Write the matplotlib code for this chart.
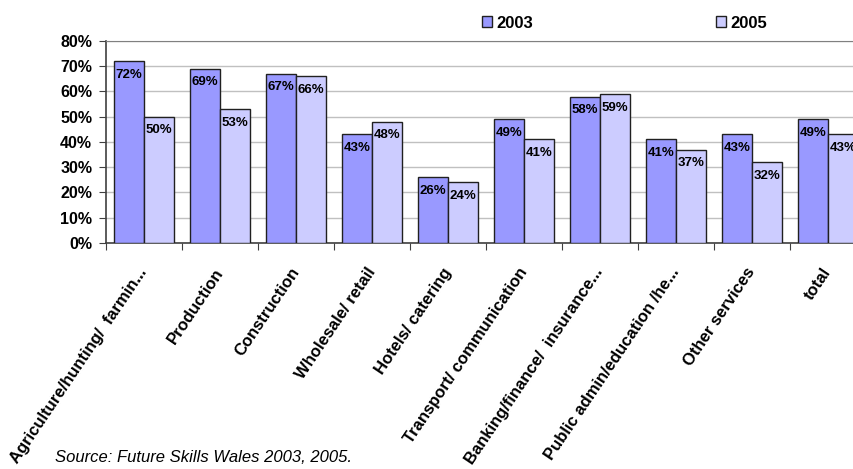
import numpy as np
import matplotlib
matplotlib.use("Agg")
import matplotlib.pyplot as plt
from matplotlib.patches import Patch

plt.rcParams["font.family"] = ["Liberation Sans", "DejaVu Sans"]

# ── data ──────────────────────────────────────────────────────────────────────
sectors = ["Agriculture/hunting/  farmin...", "Production", "Construction",
           "Wholesale/ retail", "Hotels/ catering", "Transport/ communication",
           "Banking/finance/  insurance...", "Public admin/education /he...",
           "Other services", "total"]
pct_2003 = [72, 69, 67, 43, 26, 49, 58, 41, 43, 49]
pct_2005 = [50, 53, 66, 48, 24, 41, 59, 37, 32, 43]
years = ["2003", "2005"]
y_ticks = [0, 10, 20, 30, 40, 50, 60, 70, 80]

c03, c05 = "#9999FF", "#CCCCFF"

W, H = 854, 469
fig = plt.figure(figsize=(W / 100, H / 100), dpi=100)
# plot area runs past the right edge of the canvas
ax = fig.add_axes([106 / W, 1 - 243 / H, 760 / W, 202 / H])

x = np.arange(len(sectors))
bw = 0.4
b1 = ax.bar(x - bw / 2, pct_2003, bw, color=c03, edgecolor="#202020", linewidth=1.0, zorder=3)
b2 = ax.bar(x + bw / 2, pct_2005, bw, color=c05, edgecolor="#202020", linewidth=1.0, zorder=3)

for bars, vals in ((b1, pct_2003), (b2, pct_2005)):
    for r, v in zip(bars, vals):
        ax.annotate(f"{v}%", (r.get_x() + r.get_width() / 2, v),
                    xytext=(0, -5.5), textcoords="offset points",
                    ha="center", va="top", fontsize=9.5, fontweight="bold", zorder=4)

# ── axes styling ──────────────────────────────────────────────────────────────
ax.set_xlim(-0.5, len(sectors) - 0.5)
ax.set_ylim(0, 80)
ax.set_yticks(y_ticks)
ax.set_yticklabels([f"{t}%" for t in y_ticks], fontsize=11.5, fontweight="bold")
ax.yaxis.grid(True, color="#c0c0c0", linewidth=1.0, zorder=0)

ax.set_xticks(np.arange(len(sectors) + 1) - 0.5)
ax.set_xticklabels([])
ax.set_xticks(x, minor=True)
ax.set_xticklabels(sectors, minor=True, rotation=56, ha="right", va="center",
                   rotation_mode="anchor", fontsize=12, fontweight="bold")
ax.tick_params(axis="x", which="major", direction="out", length=5, color="#404040")
ax.tick_params(axis="x", which="minor", length=0, pad=19)
ax.tick_params(axis="y", direction="out", length=5, color="#404040", pad=5)

for s in ("left", "bottom"):
    ax.spines[s].set_color("#404040")
    ax.spines[s].set_linewidth(1.2)
ax.spines["top"].set_color("#808080")
ax.spines["right"].set_visible(False)

handles = [Patch(facecolor=c03, edgecolor="#202020", linewidth=1.0),
           Patch(facecolor=c05, edgecolor="#202020", linewidth=1.0)]
fig.legend(handles, years, loc="center left", bbox_to_anchor=(482 / W, 1 - 23 / H),
           ncol=2, frameon=False, prop={"weight": "bold", "size": 12},
           handlelength=0.6, handleheight=0.6, handletextpad=0.25, columnspacing=11.0,
           borderpad=0, borderaxespad=0)

fig.text(55 / W, 1 - 457 / H, "Source: Future Skills Wales 2003, 2005.",
         family=["Liberation Sans Narrow", "Liberation Sans"], style="italic",
         fontsize=12, va="center", ha="left")

fig.savefig("out.png", dpi=100)
